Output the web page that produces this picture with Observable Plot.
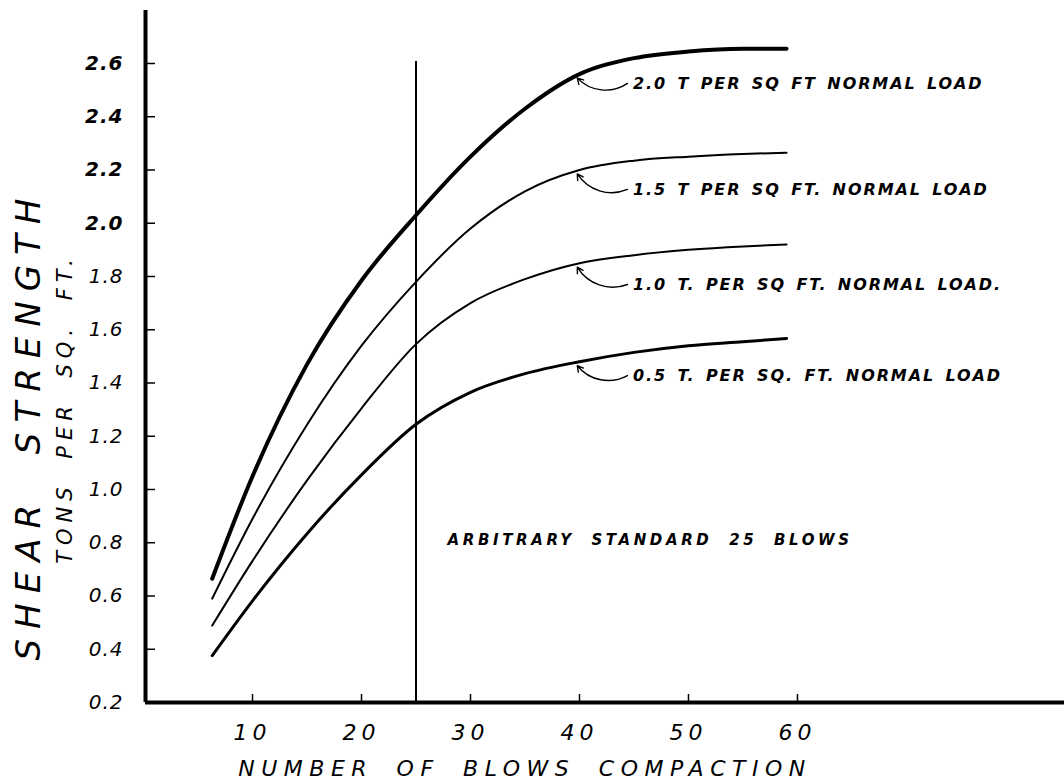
<!DOCTYPE html>
<html>
<head>
<meta charset="utf-8">
<script src="https://cdn.jsdelivr.net/npm/d3@7"></script>
<script src="https://cdn.jsdelivr.net/npm/@observablehq/plot@0.6"></script>
<style>
  body { margin: 0; background: #fff; }
  #chart svg { display: block; }
  text[aria-label="curve-label"] { letter-spacing: 1.9px; word-spacing: 3px; }
  text[aria-label="standard-label"] { letter-spacing: 3.6px; word-spacing: 8px; }
  g[aria-label="x-axis tick label"] text { letter-spacing: 5px; }
  g[aria-label="y-axis tick label"] text { letter-spacing: 1px; }
  text[aria-label="x-title"] { letter-spacing: 6.5px; word-spacing: 10px; }
  text[aria-label="y-title"] { letter-spacing: 10px; word-spacing: 20px; }
  text[aria-label="y-subtitle"] { letter-spacing: 6px; word-spacing: 10px; }
</style>
</head>
<body>
<div id="chart"></div>
<script>
// ---- data ----
const blows   = [6.3, 10, 15, 20, 25, 30, 35, 40, 45, 50, 55, 59];
const load20  = [0.665, 1.05, 1.47, 1.785, 2.03, 2.25, 2.43, 2.56, 2.62, 2.645, 2.655, 2.655];
const load15  = [0.59, 0.89, 1.243, 1.54, 1.78, 1.98, 2.12, 2.20, 2.235, 2.25, 2.26, 2.265];
const load10  = [0.489, 0.732, 1.034, 1.305, 1.546, 1.70, 1.79, 1.85, 1.88, 1.90, 1.913, 1.92];
const load05  = [0.376, 0.582, 0.834, 1.055, 1.245, 1.365, 1.435, 1.48, 1.515, 1.54, 1.555, 1.567];

const seriesNames  = ["2.0 T PER SQ FT NORMAL LOAD", "1.5 T PER SQ FT. NORMAL LOAD", "1.0 T. PER SQ FT. NORMAL LOAD.", "0.5 T. PER SQ. FT. NORMAL LOAD"];
const seriesValues = [load20, load15, load10, load05];
const seriesWidths = [4, 2, 2, 3];
const labelBlows   = 44.9;          // where the hand lettering starts
const labelLevels  = [2.525, 2.127, 1.77, 1.428];
const leaderBlows  = 40;            // leaders point at the 40-blow value

const standardBlows = 25;
const standardTop   = 2.607;
const standardText  = "ARBITRARY STANDARD 25 BLOWS";
const standardPos   = [27.9, 0.808];

const xTicks = [10, 20, 30, 40, 50, 60];
const yTicksLow  = [0.2, 0.4, 0.6, 0.8, 1.0, 1.2, 1.4, 1.6, 1.8];
const yTicksHigh = [2.0, 2.2, 2.4, 2.6];
const xTitle = "NUMBER OF BLOWS COMPACTION";
const yTitle = "SHEAR STRENGTH";
const ySubtitle = "TONS PER SQ. FT.";

// ---- build table ----
const rows = [];
seriesNames.forEach((name, i) => blows.forEach((b, j) => rows.push({name, blows: b, value: seriesValues[i][j]})));
const labels = seriesNames.map((name, i) => ({
  name, y: labelLevels[i],
  target: seriesValues[i][blows.indexOf(leaderBlows)]
}));

const W = 1064, H = 782;
const mL = 145, mR = 0, mT = 10, mB = 80;
const plotW = W - mL - mR, plotH = H - mT - mB;
const font = "DejaVu Sans, Verdana, sans-serif";
const tag = s => () => s;

const lineMarks = seriesNames.map((name, i) =>
  Plot.line(rows.filter(d => d.name === name), {
    x: "blows", y: "value", curve: "monotone-x",
    stroke: "black", strokeWidth: seriesWidths[i], strokeLinecap: "round"
  })
);

const chart = Plot.plot({
  width: W, height: H,
  marginLeft: mL, marginRight: mR, marginTop: mT, marginBottom: mB,
  style: {background: "white", fontFamily: font, color: "black"},
  x: {domain: [0.18, 84.5]},
  y: {domain: [0.2, 2.799]},
  marks: [
    // axes lines
    Plot.ruleY([0.2], {stroke: "black", strokeWidth: 4}),
    Plot.ruleX([0.18], {stroke: "black", strokeWidth: 4}),
    // inward ticks
    Plot.tickX(xTicks, {x: d => d, insetTop: plotH - 8, stroke: "black", strokeWidth: 1.5}),
    Plot.tickY([...yTicksLow, ...yTicksHigh], {y: d => d, insetRight: plotW - 10, stroke: "black", strokeWidth: 1.5}),
    // tick labels
    Plot.axisX(xTicks, {tickSize: 0, tickPadding: 22, label: null, fontSize: 22, fontStyle: "italic", fontFamily: font, fill: "black"}),
    Plot.axisY(yTicksLow, {tickSize: 0, tickPadding: 22, label: null, fontSize: 20, fontStyle: "italic", fontWeight: "normal", fontFamily: font, fill: "black", tickFormat: d => d.toFixed(1)}),
    Plot.axisY(yTicksHigh, {tickSize: 0, tickPadding: 22, label: null, fontSize: 20, fontStyle: "italic", fontWeight: "bold", fontFamily: font, fill: "black", tickFormat: d => d.toFixed(1)}),
    // axis titles
    Plot.text([xTitle], {x: 35, frameAnchor: "bottom", lineAnchor: "middle", textAnchor: "middle", dy: 66, text: d => d, fontSize: 22, fontStyle: "italic", fontFamily: font, fill: "black", ariaLabel: tag("x-title")}),
    Plot.text([yTitle], {y: 1.244, frameAnchor: "left", textAnchor: "middle", lineAnchor: "middle", dx: -116, rotate: -90, text: d => d, fontSize: 34, fontStyle: "italic", fontWeight: 200, fontFamily: font, fill: "black", ariaLabel: tag("y-title")}),
    Plot.text([ySubtitle], {y: 1.304, frameAnchor: "left", textAnchor: "middle", lineAnchor: "middle", dx: -80, rotate: -90, text: d => d, fontSize: 21, fontStyle: "italic", fontWeight: 300, fontFamily: font, fill: "black", ariaLabel: tag("y-subtitle")}),
    // standard line
    Plot.ruleX([standardBlows], {y1: 0.2, y2: standardTop, stroke: "black", strokeWidth: 2}),
    Plot.text([standardText], {x: standardPos[0], y: standardPos[1], text: d => d, textAnchor: "start", fontSize: 15, fontStyle: "italic", fontWeight: "bold", fontFamily: font, fill: "black", ariaLabel: tag("standard-label")}),
    // curves
    ...lineMarks,
    // leaders and labels
    Plot.arrow(labels, {x1: labelBlows - 0.5, y1: "y", x2: leaderBlows - 0.2, y2: d => d.target - 0.015, bend: 40, headLength: 7, stroke: "black", strokeWidth: 1.4}),
    Plot.text(labels, {x: labelBlows, y: "y", text: "name", textAnchor: "start", fontSize: 16, fontStyle: "italic", fontWeight: "bold", fontFamily: font, fill: "black", ariaLabel: tag("curve-label")})
  ]
});
document.getElementById("chart").appendChild(chart);
</script>
</body>
</html>
